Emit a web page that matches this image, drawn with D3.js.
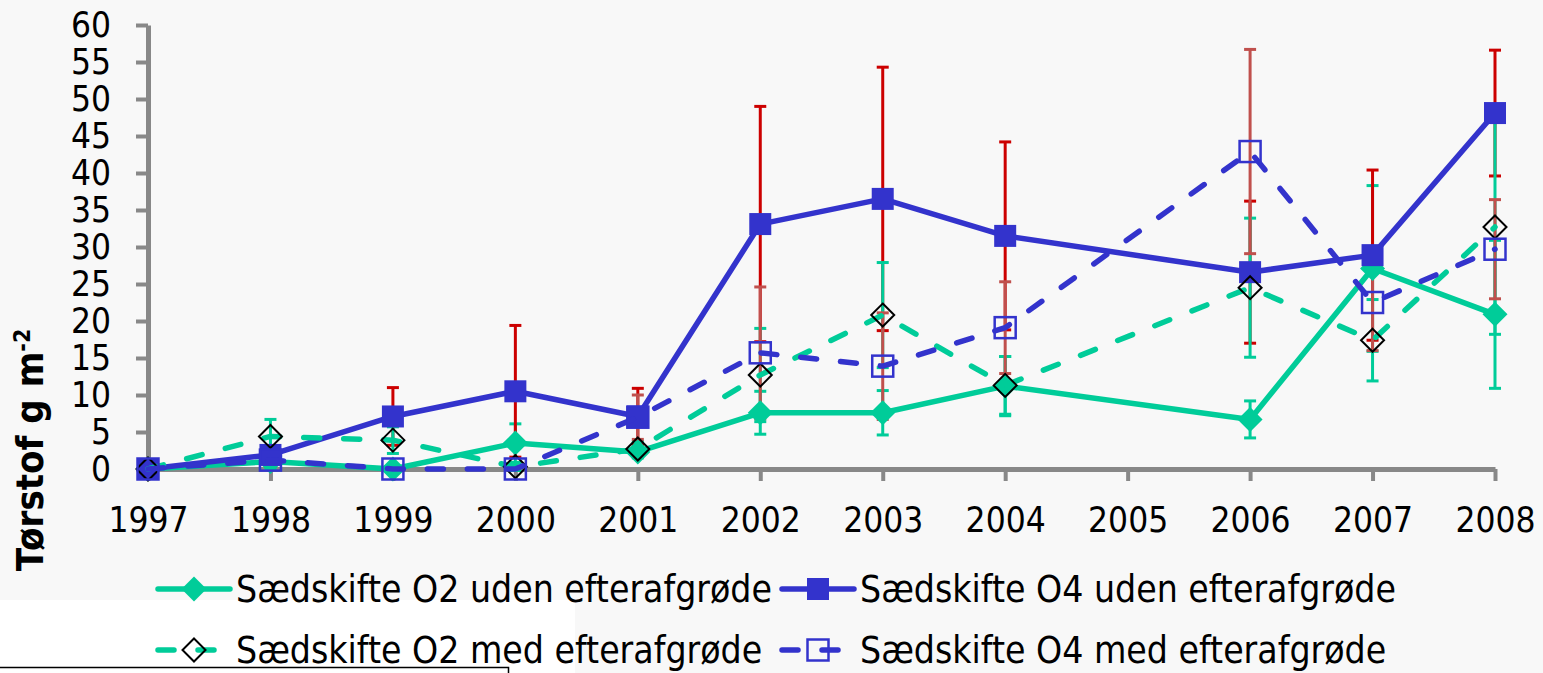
<!DOCTYPE html>
<html>
<head>
<meta charset="utf-8">
<script src="https://cdnjs.cloudflare.com/ajax/libs/d3/7.8.5/d3.min.js"></script>
<style>
  html, body { margin: 0; padding: 0; background: #f8f8f8; }
  svg { display: block; }
  text { font-family: 'DejaVu Sans Condensed', 'DejaVu Sans', sans-serif; font-stretch: condensed; fill: #000; }
</style>
</head>
<body>
<svg id="chart" width="1543" height="673"></svg>
<script>
// Tørstof 1997-2008, values (2005 has no data)
const years = ['1997', '1998', '1999', '2000', '2001', '2002', '2003', '2004', '2005', '2006', '2007', '2008'];
const yTicks = [0, 5, 10, 15, 20, 25, 30, 35, 40, 45, 50, 55, 60];

const o2Uden    = [0, 1.0, 0,   3.5, 2.3, 7.6,  7.6,  11.2, null, 6.7,  27.1, 20.9];
const o2UdenErr = [0, 1.0, 0,   2.6, 0.8, 2.9,  3.0,  4.0,  null, 2.5,  11.2, 10.0];
const o4Uden    = [0, 1.9, 7.1, 10.5, 7.1, 33.1, 36.5, 31.5, null, 26.6, 28.9, 48.1];
const o4UdenErr = [0, 1.0, 3.9, 8.9, 3.8, 15.9, 17.8, 12.7, null, 9.6,  11.5, 8.5];
const o2Med     = [0, 4.4, 3.9, 0.3, 2.7, 12.7, 20.8, 11.3, null, 24.5, 17.4, 32.7];
const o2MedErr  = [0, 2.3, 1.8, 0.5, 1.0, 6.3,  7.1,  3.9,  null, 9.4,  5.5,  14.5];
const o4Med     = [0, 1.2, 0,   0,   7.0, 15.7, 13.9, 19.1, null, 42.9, 22.5, 29.7];
const o4MedErr  = [0, 0.8, 0,   0,   3.0, 8.9,  7.2,  6.2,  null, 13.8, 6.5,  6.7];

const GREEN = '#00cc99', BLUE = '#3333cc', RED = '#cc0000', MUTED_RED = '#c0504d', AXIS = '#888888';

const series = [
  { name: 'Sædskifte O2 uden efterafgrøde', values: o2Uden, err: o2UdenErr, color: GREEN, errColor: GREEN, dashed: false, marker: 'diamondFilled' },
  { name: 'Sædskifte O4 uden efterafgrøde', values: o4Uden, err: o4UdenErr, color: BLUE, errColor: RED, dashed: false, marker: 'squareFilled' },
  { name: 'Sædskifte O2 med efterafgrøde', values: o2Med, err: o2MedErr, color: GREEN, errColor: GREEN, dashed: true, marker: 'diamondOpen' },
  { name: 'Sædskifte O4 med efterafgrøde', values: o4Med, err: o4MedErr, color: BLUE, errColor: MUTED_RED, dashed: true, marker: 'squareOpen' }
];

const svg = d3.select('#chart');

// white text box remnant at the bottom left of the screenshot
svg.append('rect').attr('x', 0).attr('y', 600).attr('width', 575).attr('height', 73).attr('fill', '#ffffff');
svg.append('path').attr('d', 'M0,667.5H508.5V673').attr('fill', 'none').attr('stroke', '#000').attr('stroke-width', 1.5);

const x = d3.scalePoint().domain(years).range([148, 1495]);
const y = d3.scaleLinear().domain([0, 60]).range([469, 25]);

// axes
const yAxis = svg.append('g').attr('transform', 'translate(148,0)')
  .call(d3.axisLeft(y).tickValues(yTicks).tickSize(12).tickSizeOuter(0).tickPadding(25));
const xAxis = svg.append('g').attr('transform', 'translate(0,469)')
  .call(d3.axisBottom(x).tickSize(12).tickSizeOuter(0).tickPadding(26));

[yAxis, xAxis].forEach(ax => {
  ax.select('.domain').attr('stroke', AXIS).attr('stroke-width', 5);
  ax.selectAll('.tick line').attr('stroke', AXIS).attr('stroke-width', 4);
  ax.selectAll('.tick text').style('font-size', '35px').attr('fill', '#000');
});

// y title
svg.append('text')
  .attr('transform', 'translate(43,450) rotate(-90)')
  .attr('text-anchor', 'middle')
  .style('font-size', '38px')
  .style('font-weight', 'bold')
  .text('Tørstof g m')
  .append('tspan')
  .attr('baseline-shift', 'super')
  .style('font-size', '23px')
  .text('-2');

// error bars
const capW = 6;
series.forEach(s => {
  const pts = years.map((yr, i) => ({ yr, v: s.values[i], e: s.err[i] })).filter(d => d.v != null && d.e > 0);
  const g = svg.append('g').attr('stroke', s.errColor).attr('stroke-width', 3).attr('fill', 'none');
  pts.forEach(d => {
    const cx = x(d.yr), y0 = y(d.v - d.e), y1 = y(d.v + d.e);
    g.append('line').attr('x1', cx).attr('x2', cx).attr('y1', y0).attr('y2', y1);
    g.append('line').attr('x1', cx - capW).attr('x2', cx + capW).attr('y1', y0).attr('y2', y0);
    g.append('line').attr('x1', cx - capW).attr('x2', cx + capW).attr('y1', y1).attr('y2', y1);
  });
});

function drawMarker(g, type, cx, cy, color) {
  if (type === 'diamondFilled') {
    g.append('path').attr('d', `M${cx},${cy - 12.5}L${cx + 12.5},${cy}L${cx},${cy + 12.5}L${cx - 12.5},${cy}Z`).attr('fill', color);
  } else if (type === 'diamondOpen') {
    g.append('path').attr('d', `M${cx},${cy - 11.5}L${cx + 11.5},${cy}L${cx},${cy + 11.5}L${cx - 11.5},${cy}Z`)
      .attr('fill', 'none').attr('stroke', '#000').attr('stroke-width', 2);
  } else if (type === 'squareFilled') {
    g.append('rect').attr('x', cx - 11).attr('y', cy - 11).attr('width', 22).attr('height', 22).attr('fill', color);
  } else {
    g.append('rect').attr('x', cx - 10.5).attr('y', cy - 10.5).attr('width', 21).attr('height', 21)
      .attr('fill', 'none').attr('stroke', color).attr('stroke-width', 2.5);
  }
}

const line = d3.line().x(d => x(d.yr)).y(d => y(d.v));

series.forEach(s => {
  const pts = years.map((yr, i) => ({ yr, v: s.values[i] })).filter(d => d.v != null);
  const g = svg.append('g');
  g.append('path').datum(pts).attr('d', line)
    .attr('fill', 'none').attr('stroke', s.color).attr('stroke-width', 5.5)
    .attr('stroke-linecap', 'round').attr('stroke-linejoin', 'round')
    .attr('stroke-dasharray', s.dashed ? '16,24' : null);
  pts.forEach(d => drawMarker(g, s.marker, x(d.yr), y(d.v), s.color));
});

// legend, two rows of two
const legendPos = [
  { x: 158, y: 589 }, { x: 782, y: 589 },
  { x: 158, y: 650 }, { x: 782, y: 650 }
];
series.forEach((s, i) => {
  const p = legendPos[i];
  const g = svg.append('g');
  g.append('line').attr('x1', p.x).attr('x2', p.x + 72).attr('y1', p.y).attr('y2', p.y)
    .attr('stroke', s.color).attr('stroke-width', 5.5).attr('stroke-linecap', 'round')
    .attr('stroke-dasharray', s.dashed ? '16,24' : null);
  drawMarker(g, s.marker, p.x + 36, p.y, s.color);
  g.append('text').attr('x', p.x + 78).attr('y', p.y + 13)
    .style('font-size', '37px').text(s.name);
});
</script>
</body>
</html>
